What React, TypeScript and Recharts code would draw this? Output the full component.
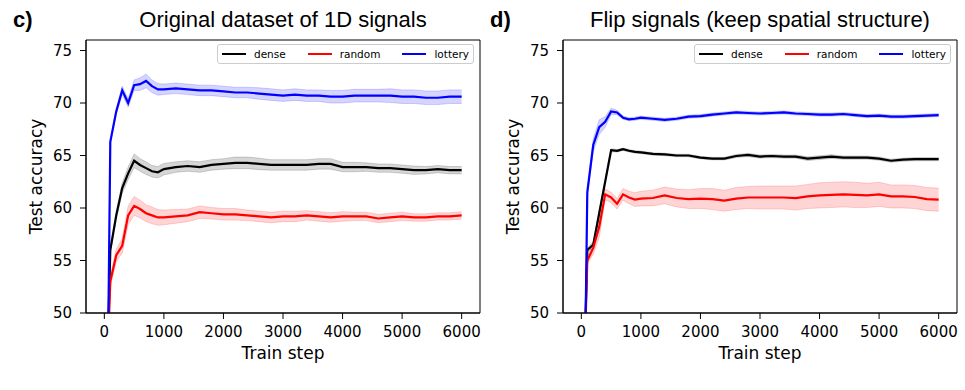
import { ComposedChart, Line, Area, XAxis, YAxis, ReferenceArea, Legend } from 'recharts';

// training steps where the test accuracy was logged
const STEPS = [50, 100, 200, 300, 400, 500, 600, 700, 800, 900, 1000,
  1200, 1400, 1600, 1800, 2000, 2200, 2400, 2600, 2800, 3000, 3200, 3400, 3600, 3800,
  4000, 4200, 4400, 4600, 4800, 5000, 5200, 5400, 5600, 5800, 6000];

// c) original dataset
const C_DENSE = [45, 56.0, 59.3, 61.9, 63.3, 64.5, 64.1, 63.8, 63.5, 63.4, 63.7,
  63.9, 64.0, 63.9, 64.1, 64.2, 64.3, 64.3, 64.2, 64.1, 64.1, 64.1, 64.1, 64.2, 64.2,
  63.9, 63.9, 63.9, 63.8, 63.8, 63.7, 63.6, 63.6, 63.7, 63.6, 63.6];
const C_RANDOM = [45, 53.0, 55.5, 56.4, 59.3, 60.2, 59.9, 59.5, 59.3, 59.1, 59.1,
  59.2, 59.3, 59.6, 59.5, 59.4, 59.4, 59.3, 59.2, 59.1, 59.2, 59.2, 59.3, 59.2, 59.1,
  59.2, 59.2, 59.2, 59.0, 59.1, 59.2, 59.1, 59.1, 59.2, 59.2, 59.3];
const C_LOTTERY = [40, 66.3, 69.2, 71.2, 70.0, 71.7, 71.8, 72.1, 71.6, 71.3, 71.3,
  71.4, 71.3, 71.2, 71.2, 71.1, 71.0, 71.0, 70.9, 70.8, 70.7, 70.8, 70.7, 70.7, 70.6,
  70.6, 70.7, 70.7, 70.7, 70.7, 70.6, 70.6, 70.5, 70.5, 70.6, 70.6];
const C_DENSE_SD = [0, 0.3, 0.4, 0.5, 0.6, 0.65, 0.6, 0.6, 0.55, 0.55, 0.55,
  0.5, 0.5, 0.5, 0.5, 0.5, 0.55, 0.55, 0.55, 0.5, 0.5, 0.5, 0.5, 0.5, 0.5,
  0.45, 0.45, 0.4, 0.4, 0.4, 0.4, 0.4, 0.35, 0.35, 0.35, 0.35];
const C_RANDOM_SD = [0, 0.5, 0.6, 0.7, 0.9, 0.9, 0.85, 0.8, 0.8, 0.75, 0.7,
  0.65, 0.6, 0.6, 0.55, 0.55, 0.55, 0.5, 0.5, 0.5, 0.5, 0.5, 0.45, 0.45, 0.45,
  0.45, 0.4, 0.4, 0.4, 0.4, 0.4, 0.35, 0.35, 0.35, 0.35, 0.35];
const C_LOTTERY_SD = [0, 0.2, 0.3, 0.4, 0.4, 0.5, 0.6, 0.65, 0.6, 0.55, 0.5,
  0.5, 0.5, 0.5, 0.5, 0.5, 0.5, 0.5, 0.55, 0.55, 0.55, 0.55, 0.55, 0.55, 0.6,
  0.6, 0.6, 0.6, 0.6, 0.65, 0.65, 0.65, 0.65, 0.65, 0.65, 0.65];

// d) flipped signals
const D_DENSE = [45, 56.0, 56.5, 59.5, 62.5, 65.5, 65.45, 65.6, 65.45, 65.35, 65.3,
  65.15, 65.1, 65.0, 65.0, 64.8, 64.7, 64.7, 64.95, 65.05, 64.9, 64.95, 64.9, 64.9, 64.7,
  64.8, 64.9, 64.8, 64.8, 64.8, 64.7, 64.5, 64.6, 64.65, 64.65, 64.65];
const D_RANDOM = [45, 55.0, 56.2, 58.2, 61.3, 61.0, 60.4, 61.3, 61.0, 60.8, 60.9,
  60.95, 61.2, 60.95, 60.85, 60.9, 60.85, 60.7, 60.9, 61.0, 61.0, 61.0, 61.0, 60.95, 61.1,
  61.2, 61.25, 61.3, 61.25, 61.2, 61.3, 61.1, 61.1, 61.05, 60.85, 60.8];
const D_LOTTERY = [40, 61.5, 66.0, 67.7, 68.2, 69.2, 69.1, 68.6, 68.45, 68.5, 68.6,
  68.5, 68.4, 68.5, 68.7, 68.75, 68.9, 69.0, 69.1, 69.05, 69.0, 69.05, 69.1, 69.0, 68.95,
  68.9, 68.9, 68.95, 68.85, 68.75, 68.8, 68.7, 68.7, 68.75, 68.8, 68.85];
const D_DENSE_SD = [0, 0.2, 0.3, 0.3, 0.2, 0.15, 0.12, 0.12, 0.12, 0.12, 0.12,
  0.12, 0.12, 0.12, 0.12, 0.12, 0.12, 0.12, 0.15, 0.15, 0.15, 0.15, 0.15, 0.15, 0.18,
  0.18, 0.18, 0.15, 0.15, 0.15, 0.15, 0.15, 0.15, 0.15, 0.15, 0.15];
const D_RANDOM_SD = [0, 0.3, 0.6, 1.0, 0.5, 0.5, 0.5, 0.55, 0.6, 0.65, 0.7,
  0.75, 0.8, 0.85, 0.9, 0.95, 1.0, 1.0, 1.05, 1.05, 1.1, 1.1, 1.1, 1.15, 1.15,
  1.2, 1.2, 1.2, 1.2, 1.15, 1.15, 1.1, 1.1, 1.1, 1.1, 1.1];
const D_LOTTERY_SD = [0, 0.4, 0.6, 0.7, 0.5, 0.3, 0.2, 0.15, 0.15, 0.15, 0.15,
  0.15, 0.15, 0.15, 0.15, 0.15, 0.15, 0.15, 0.15, 0.15, 0.15, 0.15, 0.15, 0.15, 0.15,
  0.15, 0.15, 0.15, 0.15, 0.15, 0.15, 0.15, 0.15, 0.15, 0.15, 0.15];

const Y_TICKS = [50, 55, 60, 65, 70, 75];
const X_TICKS = [0, 1000, 2000, 3000, 4000, 5000, 6000];

const SERIES = [
  { key: 'dense', color: '#000000', band: 'rgba(0,0,0,0.16)' },
  { key: 'random', color: '#ff0000', band: 'rgba(255,0,0,0.17)' },
  { key: 'lottery', color: '#0000ff', band: 'rgba(0,0,255,0.17)' },
];

const TICK_FONT = { fontFamily: 'DejaVu Sans', fontSize: 15, fill: '#000' };

function buildRows(dense: number[], random: number[], lottery: number[],
  denseSd: number[], randomSd: number[], lotterySd: number[]) {
  return STEPS.map((step, i) => ({
    step,
    dense: dense[i],
    random: random[i],
    lottery: lottery[i],
    denseBand: [dense[i] - denseSd[i], dense[i] + denseSd[i]],
    randomBand: [random[i] - randomSd[i], random[i] + randomSd[i]],
    lotteryBand: [lottery[i] - lotterySd[i], lottery[i] + lotterySd[i]],
  }));
}

const LegendBox = () => (
  <div style={{
    display: 'flex', alignItems: 'center', background: 'rgba(255,255,255,0.8)',
    border: '1px solid #cccccc', borderRadius: 3, padding: '0 4px', height: 20,
    boxSizing: 'border-box', fontFamily: 'DejaVu Sans', fontSize: 10.5, color: '#000',
    whiteSpace: 'nowrap',
  }}>
    {SERIES.map((s, i) => (
      <span key={s.key} style={{ display: 'flex', alignItems: 'center', marginLeft: i ? 22 : 0 }}>
        <span style={{ display: 'inline-block', width: 24, height: 2.5, background: s.color, marginRight: 8 }} />
        {s.key}
      </span>
    ))}
  </div>
);

function Panel({ left, letter, title, rows }: any) {
  return (
    <div style={{ position: 'absolute', left, top: 0, width: 490, height: 390 }}>
      <div style={{
        position: 'absolute', left: 13, top: 7, fontFamily: 'Liberation Sans',
        fontWeight: 'bold', fontSize: 22, lineHeight: 'normal',
      }}>{letter}</div>
      <div style={{
        position: 'absolute', left: 86, top: 7, width: 394, textAlign: 'center',
        fontFamily: 'Liberation Sans', fontSize: 22, lineHeight: 'normal', whiteSpace: 'nowrap',
      }}>{title}</div>
      <ComposedChart width={490} height={390} data={rows}
        margin={{ top: 40, right: 10, bottom: 0, left: 0 }}>
        <XAxis dataKey="step" type="number" domain={[-308, 6308]} ticks={X_TICKS}
          height={77} tickSize={6} tickMargin={7} tick={TICK_FONT}
          axisLine={{ stroke: '#000' }} tickLine={{ stroke: '#000' }}
          label={{ value: 'Train step', position: 'insideBottom', offset: 31,
            fill: '#000', fontSize: 17, fontFamily: 'DejaVu Sans' }} />
        <YAxis type="number" domain={[50, 76]} ticks={Y_TICKS} allowDataOverflow
          width={86} tickSize={6} tickMargin={8} tick={TICK_FONT}
          axisLine={{ stroke: '#000' }} tickLine={{ stroke: '#000' }}
          label={{ value: 'Test accuracy', angle: -90, position: 'insideLeft', offset: 36,
            fill: '#000', fontSize: 17, fontFamily: 'DejaVu Sans', style: { textAnchor: 'middle' } }} />
        {SERIES.map((s) => (
          <Area key={s.key + 'Band'} dataKey={s.key + 'Band'} type="linear"
            fill={s.band} fillOpacity={1} stroke={s.band} strokeWidth={1}
            dot={false} activeDot={false} legendType="none" isAnimationActive={false} />
        ))}
        {SERIES.map((s) => (
          <Line key={s.key} dataKey={s.key} type="linear" stroke={s.color} strokeWidth={2.2}
            dot={false} activeDot={false} isAnimationActive={false} />
        ))}
        <ReferenceArea x1={-308} x2={6308} y1={50} y2={76} fill="none" fillOpacity={0}
          stroke="#000" strokeWidth={1} />
        <Legend layout="horizontal" verticalAlign="middle" align="center" content={() => <LegendBox />}
          wrapperStyle={{ top: 44, right: 16, left: 'auto', width: 'auto', height: 'auto' }} />
      </ComposedChart>
    </div>
  );
}

export default function App() {
  const rowsC = buildRows(C_DENSE, C_RANDOM, C_LOTTERY, C_DENSE_SD, C_RANDOM_SD, C_LOTTERY_SD);
  const rowsD = buildRows(D_DENSE, D_RANDOM, D_LOTTERY, D_DENSE_SD, D_RANDOM_SD, D_LOTTERY_SD);
  return (
    <div style={{ position: 'absolute', left: 0, top: 0, width: 965, height: 390, background: '#fff' }}>
      <Panel left={0} letter="c)" title="Original dataset of 1D signals" rows={rowsC} />
      <Panel left={477} letter="d)" title="Flip signals (keep spatial structure)" rows={rowsD} />
    </div>
  );
}
